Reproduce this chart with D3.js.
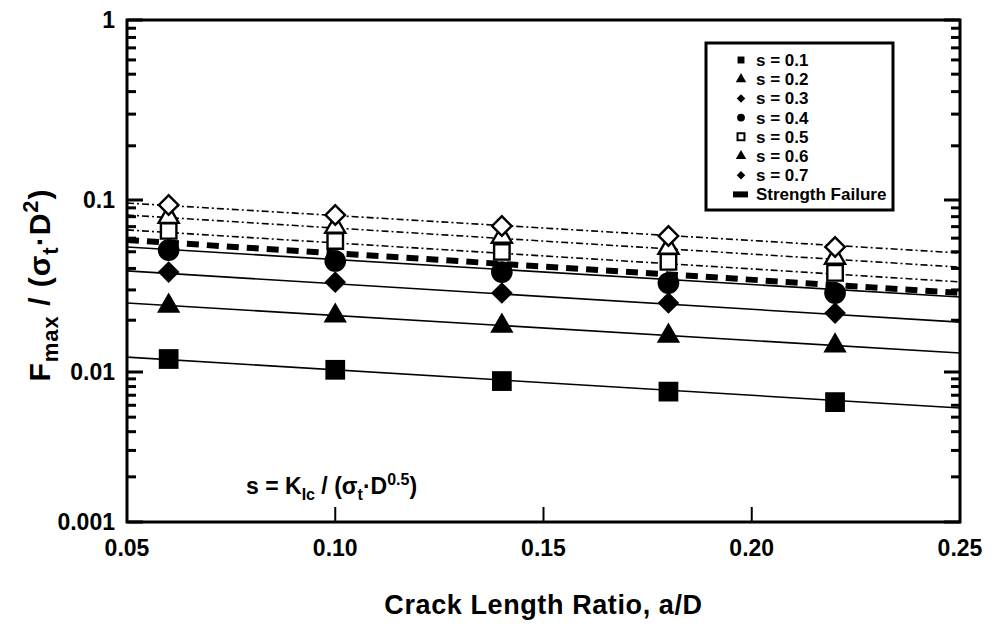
<!DOCTYPE html>
<html lang="en">
<head>
<meta charset="UTF-8">
<title>Fmax vs crack length ratio</title>
<script src="https://cdn.jsdelivr.net/npm/d3@7/dist/d3.min.js"></script>
<style>
  body { margin: 0; background: #fff; }
  text { font-family: "Liberation Sans", Arial, sans-serif; font-weight: bold; fill: #000; }
  .tick-label { font-size: 23px; }
  .axis-title { font-size: 27px; letter-spacing: 0.6px; }
  .y-title { font-size: 30px; letter-spacing: 1px; }
  .ann { font-size: 23px; }
  .legend-text { font-size: 17px; }
</style>
</head>
<body>
<svg width="1004" height="641"></svg>
<script>
// crack length ratios where data points sit
const ratios = [0.06, 0.10, 0.14, 0.18, 0.22];
// normalised max load for each s value
const s01 = [0.0119, 0.0103, 0.0087, 0.0074, 0.0063];
const s02 = [0.0242, 0.0212, 0.0185, 0.0162, 0.0142];
const s03 = [0.0381, 0.0333, 0.0288, 0.0252, 0.0220];
const s04 = [0.0511, 0.0442, 0.0381, 0.0329, 0.0288];
const s05 = [0.0661, 0.0578, 0.0499, 0.0437, 0.0377];
const s06 = [0.0796, 0.0697, 0.0610, 0.0526, 0.0460];
const s07 = [0.0935, 0.0818, 0.0706, 0.0618, 0.0533];

// fitted curves, read at the two plot edges
const lineRatios = [0.05, 0.25];
const line01 = [0.0122, 0.00575];
const line02 = [0.0252, 0.0129];
const line03 = [0.0387, 0.0195];
const line04 = [0.0533, 0.0273];
const line05 = [0.0670, 0.0334];
const line06 = [0.0818, 0.0407];
const line07 = [0.0960, 0.0492];
const strengthLine = [0.0585, 0.0288];

const xTicks = [0.05, 0.10, 0.15, 0.20, 0.25];
const xTickLabels = ["0.05", "0.10", "0.15", "0.20", "0.25"];
const yDecades = [0.001, 0.01, 0.1, 1];
const yDecadeLabels = ["0.001", "0.01", "0.1", "1"];
const legendLabels = ["s = 0.1", "s = 0.2", "s = 0.3", "s = 0.4", "s = 0.5", "s = 0.6", "s = 0.7", "Strength Failure"];

const svg = d3.select("svg");
const pLeft = 127, pRight = 960, pTop = 20, pBottom = 522;

const x = d3.scaleLinear().domain([0.05, 0.25]).range([pLeft, pRight]);
// the scanned axis has slightly uneven decades
const y = d3.scaleLog().domain(yDecades).range([pBottom, 372, 200, pTop]);

// diamonds are squares turned 45 degrees
const square = d3.symbolSquare;
const series = [
  { pts: s01, line: line01, sym: square, rot: 0, size: 390, open: false, dash: null, legendOpen: false },
  { pts: s02, line: line02, sym: d3.symbolTriangle, rot: 0, size: 235, open: false, dash: null, legendOpen: false },
  { pts: s03, line: line03, sym: square, rot: 45, size: 235, open: false, dash: null, legendOpen: false },
  { pts: s04, line: line04, sym: d3.symbolCircle, rot: 0, size: 370, open: false, dash: null, legendOpen: false },
  { pts: s05, line: line05, sym: square, rot: 0, size: 240, open: true, dash: "7,3,2,3", legendOpen: true },
  { pts: s06, line: line06, sym: d3.symbolTriangle, rot: 0, size: 175, open: true, dash: "7,3,2,3", legendOpen: false },
  { pts: s07, line: line07, sym: square, rot: 45, size: 190, open: true, dash: "7,3,2,3", legendOpen: false }
];

const lineGen = d3.line().x(d => x(d[0])).y(d => y(d[1]));

const plot = svg.append("g");

// thin curves
series.forEach(s => {
  plot.append("path")
    .datum(lineRatios.map((r, i) => [r, s.line[i]]))
    .attr("d", lineGen)
    .attr("fill", "none")
    .attr("stroke", "#000")
    .attr("stroke-width", 1.6)
    .attr("stroke-dasharray", s.dash);
});

// strength failure (thick dashed)
plot.append("path")
  .datum(lineRatios.map((r, i) => [r, strengthLine[i]]))
  .attr("d", lineGen)
  .attr("fill", "none")
  .attr("stroke", "#000")
  .attr("stroke-width", 6)
  .attr("stroke-dasharray", "12,8");

// markers (filled first, open ones on top)
series.forEach(s => {
  plot.selectAll(null)
    .data(ratios.map((r, i) => [r, s.pts[i]]))
    .enter().append("path")
    .attr("transform", d => `translate(${x(d[0])},${y(d[1])}) rotate(${s.rot})`)
    .attr("d", d3.symbol().type(s.sym).size(s.size))
    .attr("fill", s.open ? "#fff" : "#000")
    .attr("stroke", "#000")
    .attr("stroke-width", s.open ? 2.4 : 0);
});

// frame
svg.append("rect")
  .attr("x", pLeft).attr("y", pTop)
  .attr("width", pRight - pLeft).attr("height", pBottom - pTop)
  .attr("fill", "none").attr("stroke", "#000").attr("stroke-width", 3);

// y ticks, both sides, inward
const minor = [];
for (let k = 0; k < 3; k++) {
  for (let m = 2; m <= 9; m++) minor.push(yDecades[k] * m);
}
const ticks = svg.append("g").attr("stroke", "#000").attr("stroke-width", 3);
minor.forEach(v => {
  ticks.append("line").attr("x1", pLeft).attr("x2", pLeft + 9).attr("y1", y(v)).attr("y2", y(v));
  ticks.append("line").attr("x1", pRight).attr("x2", pRight - 9).attr("y1", y(v)).attr("y2", y(v));
});
yDecades.forEach(v => {
  ticks.append("line").attr("x1", pLeft).attr("x2", pLeft + 16).attr("y1", y(v)).attr("y2", y(v));
  ticks.append("line").attr("x1", pRight).attr("x2", pRight - 16).attr("y1", y(v)).attr("y2", y(v));
});
// x ticks
xTicks.slice(1, -1).forEach(v => {
  ticks.append("line").attr("x1", x(v)).attr("x2", x(v)).attr("y1", pBottom).attr("y2", pBottom - 15)
    .attr("stroke-width", 2);
});

// tick labels
svg.append("g").selectAll("text").data(yDecades).enter().append("text")
  .attr("class", "tick-label")
  .attr("x", pLeft - 12).attr("y", d => y(d) + 8)
  .attr("text-anchor", "end")
  .text((d, i) => yDecadeLabels[i]);

svg.append("g").selectAll("text").data(xTicks).enter().append("text")
  .attr("class", "tick-label")
  .attr("x", d => x(d)).attr("y", pBottom + 34)
  .attr("text-anchor", "middle")
  .text((d, i) => xTickLabels[i]);

// axis titles
svg.append("text").attr("class", "axis-title")
  .attr("x", (pLeft + pRight) / 2).attr("y", 614)
  .attr("text-anchor", "middle")
  .text("Crack Length Ratio, a/D");

const yt = svg.append("text").attr("class", "y-title")
  .attr("transform", "translate(50,285) rotate(-90)")
  .attr("text-anchor", "middle");
yt.append("tspan").text("F");
yt.append("tspan").attr("dy", 8).attr("font-size", 22).text("max");
yt.append("tspan").attr("dy", -8).text(" / (\u03c3");
yt.append("tspan").attr("dy", 8).attr("font-size", 22).text("t");
yt.append("tspan").attr("dy", -8).text("\u00b7D");
yt.append("tspan").attr("dy", -12).attr("font-size", 22).text("2");
yt.append("tspan").attr("dy", 12).text(")");

// annotation
const ann = svg.append("text").attr("class", "ann")
  .attr("x", 246).attr("y", 494);
ann.append("tspan").text("s = K");
ann.append("tspan").attr("dy", 6).attr("font-size", 16).text("Ic");
ann.append("tspan").attr("dy", -6).text(" / (\u03c3");
ann.append("tspan").attr("dy", 6).attr("font-size", 16).text("t");
ann.append("tspan").attr("dy", -6).text("\u00b7D");
ann.append("tspan").attr("dy", -9).attr("font-size", 16).text("0.5");
ann.append("tspan").attr("dy", 9).text(")");

// legend
const lg = svg.append("g").attr("transform", "translate(706,43)");
lg.append("rect").attr("width", 187).attr("height", 167)
  .attr("fill", "#fff").attr("stroke", "#000").attr("stroke-width", 3);
legendLabels.forEach((label, i) => {
  const cy = 17 + i * 19.2;
  if (i < series.length) {
    const s = series[i];
    lg.append("path")
      .attr("transform", `translate(35,${cy}) rotate(${s.rot})`)
      .attr("d", d3.symbol().type(s.sym).size(s.rot ? 36 : 48))
      .attr("fill", s.legendOpen ? "#fff" : "#000")
      .attr("stroke", "#000")
      .attr("stroke-width", s.legendOpen ? 2 : 0);
  } else {
    lg.append("line").attr("x1", 27).attr("x2", 42).attr("y1", cy).attr("y2", cy)
      .attr("stroke", "#000").attr("stroke-width", 6);
  }
  lg.append("text").attr("class", "legend-text")
    .attr("x", 50).attr("y", cy + 6)
    .text(label);
});
</script>
</body>
</html>
